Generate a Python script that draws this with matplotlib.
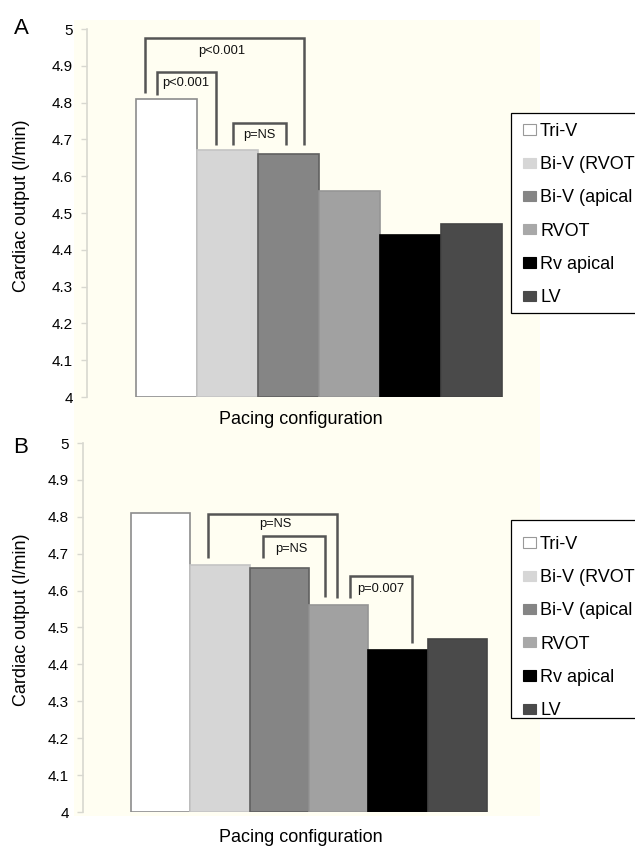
import matplotlib
matplotlib.use("Agg")
import matplotlib.pyplot as plt
from matplotlib.patches import Rectangle, Patch

plt.rcParams['font.family'] = ['Liberation Sans', 'DejaVu Sans']

# ---- data ----
categories = ["Tri-V", "Bi-V (RVOT)", "Bi-V (apical)", "RVOT", "Rv apical", "LV"]
# legend text as visible in the reference (cut at the figure edge)
legend_labels = ["Tri-V", "Bi-V (RVOT", "Bi-V (apical", "RVOT", "Rv apical", "LV"]
cardiac_output = [4.81, 4.67, 4.66, 4.56, 4.44, 4.47]
yticks = [4, 4.1, 4.2, 4.3, 4.4, 4.5, 4.6, 4.7, 4.8, 4.9, 5]
ytick_labels = ["4", "4.1", "4.2", "4.3", "4.4", "4.5", "4.6", "4.7", "4.8", "4.9", "5"]

# significance brackets: (x_left, x_right, y_left_end, y_top, y_right_end, label, label_x, label_y)
brackets_A = [
    (-0.35, 2.25, 4.826, 4.976, 4.685, "p<0.001", 0.91, 4.94),
    (-0.16, 0.81, 4.820, 4.883, 4.685, "p<0.001", 0.32, 4.853),
    (1.09, 1.96, 4.685, 4.745, 4.685, "p=NS", 1.52, 4.712),
]
brackets_B = [
    (0.80, 2.97, 4.688, 4.808, 4.580, "p=NS", 1.93, 4.78),
    (1.73, 2.77, 4.688, 4.748, 4.583, "p=NS", 2.21, 4.713),
    (3.19, 4.24, 4.580, 4.640, 4.458, "p=0.007", 3.70, 4.605),
]

fill_colors = ["#ffffff", "#d6d6d6", "#858585", "#a1a1a1", "#000000", "#4a4a4a"]
edge_colors = ["#8c8c8c", "#c4c4c4", "#606060", "#959595", "#000000", "#444444"]
legend_colors = ["#ffffff", "#d6d6d6", "#858585", "#a8a8a8", "#000000", "#4a4a4a"]

W, H = 635, 846
fig = plt.figure(figsize=(W / 100, H / 100), dpi=100)

# cream plot region background
fig.patches.append(Rectangle((74 / W, 1 - 816 / H), (540 - 74) / W, (816 - 20) / H,
                             transform=fig.transFigure, facecolor="#fffef2",
                             edgecolor="none", zorder=-5))


def px_axes(left, top, right, bottom):
    return fig.add_axes([left / W, 1 - bottom / H, (right - left) / W, (bottom - top) / H])


def draw_panel(ax, xlim, brackets):
    x = list(range(len(categories)))
    ax.bar(x, [v - 4 for v in cardiac_output], bottom=4, width=1.0,
           color=fill_colors, edgecolor=edge_colors, linewidth=1.2, zorder=2)
    ax.set_xlim(*xlim)
    ax.set_ylim(4, 5)
    ax.set_facecolor("none")
    for s in ["top", "right", "bottom"]:
        ax.spines[s].set_visible(False)
    ax.spines["left"].set_color("#d8d8d0")
    ax.spines["left"].set_linewidth(1.2)
    ax.set_xticks([])
    ax.set_yticks(yticks)
    ax.set_yticklabels(ytick_labels)
    ax.tick_params(axis="y", length=4, width=1, color="#d8d8d0", labelsize=11, pad=6)
    for (xl, xr, yl, yt, yr, lab, lx, ly) in brackets:
        ax.plot([xl, xl, xr, xr], [yl, yt, yt, yr], color="#555555", lw=1.8,
                solid_joinstyle="miter", solid_capstyle="butt", zorder=3, clip_on=False)
        ax.text(lx, ly, lab, ha="center", va="center", fontsize=9.3, color="#111111", zorder=4)


axA = px_axes(87, 29, 538, 397)
draw_panel(axA, (-1.303, 6.09), brackets_A)
axB = px_axes(83, 443, 538, 812)
draw_panel(axB, (-1.309, 6.36), brackets_B)

# texts
fig.text(21 / W, 1 - 28 / H, "A", fontsize=16, ha="center", va="center")
fig.text(21 / W, 1 - 447 / H, "B", fontsize=16, ha="center", va="center")
fig.text(22 / W, 1 - 206 / H, "Cardiac output (l/min)", rotation=90, fontsize=13,
         ha="center", va="center")
fig.text(22 / W, 1 - 620 / H, "Cardiac output (l/min)", rotation=90, fontsize=13,
         ha="center", va="center")
fig.text(301 / W, 1 - 419 / H, "Pacing configuration", fontsize=13, ha="center", va="center")
fig.text(301 / W, 1 - 837 / H, "Pacing configuration", fontsize=13, ha="center", va="center")

handles = [Patch(facecolor=c, edgecolor="#999999" if c == "#ffffff" else c, linewidth=0.8)
           for c in legend_colors]

# legend frames (top, bottom in pixels)
for (ftop, fbot, ltop) in ((113, 313, 113), (520, 718, 526)):
    fig.patches.append(Rectangle((511 / W, 1 - fbot / H), (650 - 511) / W, (fbot - ftop) / H,
                                 transform=fig.transFigure, facecolor="white",
                                 edgecolor="black", linewidth=0.9, zorder=3))
    leg = fig.legend(handles, legend_labels, loc="upper left",
                     bbox_to_anchor=(513 / W, 1 - ltop / H), fontsize=13,
                     frameon=False,
                     handlelength=0.75, handleheight=0.5, handletextpad=0.2,
                     labelspacing=0.9, borderpad=0.55, borderaxespad=0)
    leg.set_zorder(6)

fig.savefig("out.png", dpi=100, facecolor="white")
